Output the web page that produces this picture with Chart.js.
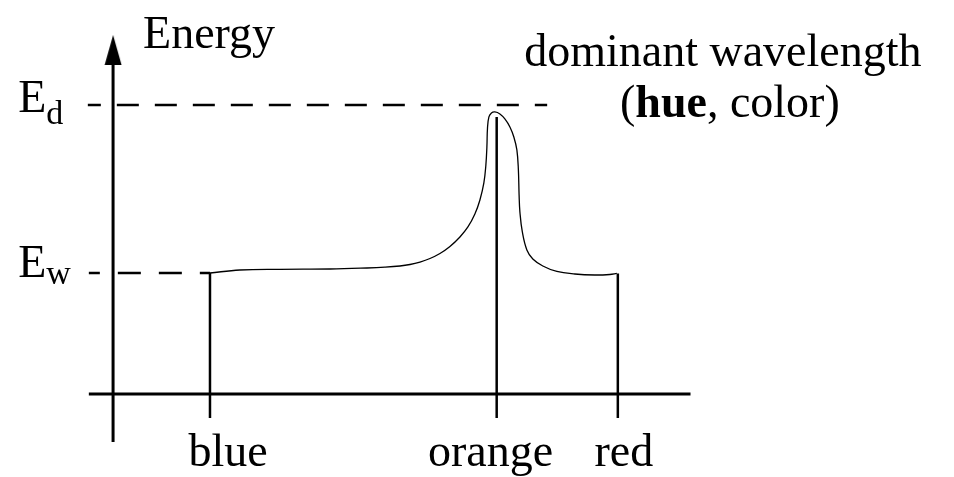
<!DOCTYPE html>
<html>
<head>
<meta charset="utf-8">
<script src="https://cdn.jsdelivr.net/npm/chart.js@4.4.1/dist/chart.umd.min.js"></script>
<style>
    html, body { margin: 0; padding: 0; background: #fff; }
    #wrap { width: 954px; height: 477px; position: relative; }
</style>
</head>
<body>
<div id="wrap"><canvas id="energyChart"></canvas></div>
<script>
// spectrum positions (x) of the marked colours
const markLabels = ['blue', 'orange', 'red'];
const markX = [9.6, 38.0, 50.0];
const markLabelX = [11.4, 37.4, 50.6];

// energy levels: dominant (d) and white (w)
const levelNames = ['d', 'w'];
const levelY = [100, 41.9];

// spectral energy distribution curve
const curveX = [9.6, 12.57, 16.53, 21.49, 25.15, 26.93, 28.42, 29.41, 30.4, 31.39, 32.38, 33.37, 34.36, 35.15, 35.84, 36.34, 36.73, 36.93, 37.03, 37.09, 37.23, 37.48, 37.82, 38.32, 38.81, 39.31, 39.7, 40.0, 40.15, 40.22, 40.3, 40.54, 40.99, 41.58, 42.57, 43.96, 45.74, 47.72, 49.21, 49.9];
const curveY = [41.87, 42.91, 43.15, 43.25, 43.6, 43.88, 44.29, 44.81, 45.67, 46.89, 48.62, 51.04, 54.33, 57.79, 62.28, 67.13, 73.01, 79.24, 85.47, 92.04, 95.85, 97.23, 97.58, 96.89, 95.16, 92.39, 88.93, 84.43, 77.51, 68.86, 62.98, 56.06, 49.83, 46.71, 44.29, 42.39, 41.52, 41.18, 41.35, 41.7];

// axis extents
const xAxisRange = [-2.4, 57.2];
const yAxisRange = [-16.6, 119];
const dropBottom = -8.3;
const dashStartX = [-2.5, -2.4];
const dashEndX = [43.0, 9.6];

const serif = '"Liberation Serif", "Times New Roman", serif';

// tall narrow arrow head for the energy axis
const arrowHead = document.createElement('canvas');
arrowHead.width = 18;
arrowHead.height = 30;
(function () {
    const c = arrowHead.getContext('2d');
    c.fillStyle = '#000';
    c.beginPath();
    c.moveTo(9, 0);
    c.lineTo(17.5, 30);
    c.lineTo(0.5, 30);
    c.closePath();
    c.fill();
})();

const datasets = [];

// axes
datasets.push({
    data: [{x: xAxisRange[0], y: 0}, {x: xAxisRange[1], y: 0}],
    borderColor: '#000', borderWidth: 3, pointRadius: 0
});
datasets.push({
    data: [{x: 0, y: yAxisRange[0]}, {x: 0, y: yAxisRange[1]}],
    borderColor: '#000', borderWidth: 3,
    pointRadius: [0, 4], pointStyle: arrowHead
});

// dashed energy levels
levelY.forEach((y, i) => {
    datasets.push({
        data: [{x: dashStartX[i], y: y}, {x: dashEndX[i], y: y}],
        borderColor: '#000', borderWidth: 2.5, pointRadius: 0,
        borderDash: i === 0 ? [22, 16] : [23, 18],
        borderDashOffset: i === 0 ? 9 : 12
    });
});

// vertical drop lines at blue / orange / red
const dropTop = [curveY[0], 95.8, curveY[curveY.length - 1]];
markX.forEach((x, i) => {
    datasets.push({
        data: [{x: x, y: dropBottom}, {x: x, y: dropTop[i]}],
        borderColor: '#000', borderWidth: 2.5, pointRadius: 0
    });
});

// the curve
datasets.push({
    data: curveX.map((x, i) => ({x: x, y: curveY[i]})),
    borderColor: '#000', borderWidth: 1.3, pointRadius: 0,
    tension: 0.4
});

const textPlugin = {
    id: 'diagramText',
    afterDatasetsDraw(chart) {
        const ctx = chart.ctx;
        const sx = v => chart.scales.x.getPixelForValue(v);
        const sy = v => chart.scales.y.getPixelForValue(v);
        ctx.save();
        ctx.fillStyle = '#000';
        ctx.textBaseline = 'alphabetic';

        ctx.font = '46px ' + serif;
        ctx.textAlign = 'left';
        ctx.fillText('Energy', sx(2.97), sy(119.8));

        ctx.textAlign = 'center';
        ctx.fillText('dominant wavelength', sx(60.4), sy(113.5));

        // (hue, color) with bold "hue"
        const parts = [['(', '46px ' + serif], ['hue', 'bold 46px ' + serif], [', color)', '46px ' + serif]];
        let total = 0;
        parts.forEach(p => { ctx.font = p[1]; total += ctx.measureText(p[0]).width; });
        let px = sx(61.1) - total / 2;
        ctx.textAlign = 'left';
        parts.forEach(p => {
            ctx.font = p[1];
            ctx.fillText(p[0], px, sy(95.9));
            px += ctx.measureText(p[0]).width;
        });

        // E_d, E_w
        const eBase = [97.6, 40.5];
        const subBase = [93.4, 38.1];
        levelNames.forEach((name, i) => {
            ctx.font = '46px ' + serif;
            ctx.fillText('E', sx(-9.4), sy(eBase[i]));
            const w = ctx.measureText('E').width;
            ctx.font = '34px ' + serif;
            ctx.fillText(name, sx(-9.4) + w, sy(subBase[i]));
        });

        // colour labels under the axis
        ctx.font = '46px ' + serif;
        ctx.textAlign = 'center';
        markLabels.forEach((label, i) => {
            ctx.fillText(label, sx(markLabelX[i]), sy(-24.9));
        });
        ctx.restore();
    }
};

new Chart(document.getElementById('energyChart'), {
    type: 'line',
    data: { datasets: datasets },
    options: {
        responsive: true,
        maintainAspectRatio: false,
        animation: false,
        layout: { padding: 0, autoPadding: false },
        scales: {
            x: { type: 'linear', min: -11.2, max: 83.3, display: false },
            y: { type: 'linear', min: -28.7, max: 136.3, display: false }
        },
        plugins: {
            legend: { display: false },
            tooltip: { enabled: false }
        },
        events: []
    },
    plugins: [textPlugin]
});
</script>
</body>
</html>
